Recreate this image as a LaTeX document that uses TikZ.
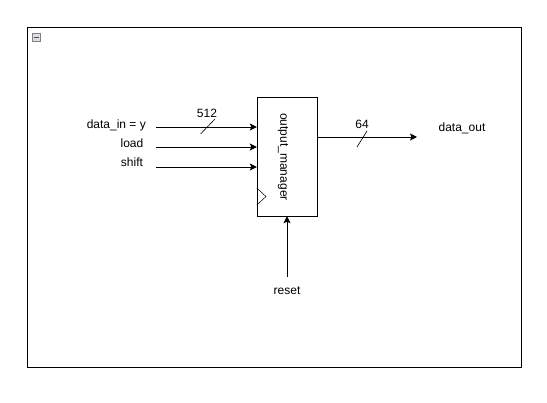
\documentclass[tikz,border=0pt]{standalone}
\usepackage{fontspec}
\setmainfont{Liberation Sans}
\usetikzlibrary{arrows.meta,positioning}
\tikzset{
  blk/.style  ={draw,minimum width=60pt,minimum height=119pt,inner sep=0pt},
  sig/.style  ={font=\fontsize{12}{14}\selectfont,inner sep=1pt},
  ar/.style   ={-{Stealth[length=7pt,width=7pt,inset=1.5pt]},line width=0.9pt},
  bus/.style  ={line width=0.6pt},
}
\begin{document}
\begin{tikzpicture}[x=1pt,y=-1pt]
\fill[white] (0,0) rectangle (547,403);
\useasboundingbox (0,0) rectangle (547,403);
% frame and collapse icon
\draw[line width=0.9pt] (27,27) rectangle (521,367);
\draw[gray,fill=blue!8!gray!25] (32,33) rectangle (40,41);
\draw[line width=0.9pt,black!70] (33.5,37) -- (38.5,37);
% block
\node[blk] (om) at (287,156.5) {};
\node[sig,rotate=-90] at (283,157) {output\_manager};
\draw[line width=0.5pt] (om.west |- 0,188) -- (266,196.5) -- (om.west |- 0,205);
% inputs
\node[sig,anchor=east] (din) at (147,125.5) {data\_in = y};
\node[sig] (ld) at (132,143) {load};
\node[sig] (sh) at (132,162.5) {shift};
\coordinate (dinS) at (156,127);
\coordinate (ldS) at (156,147);
\coordinate (shS) at (156,167);
\draw[ar] (dinS) -- (om.west |- dinS);
\draw[ar] (ldS) -- (om.west |- ldS);
\draw[ar] (shS) -- (om.west |- shS);
\draw[bus] (200.5,134) -- (215,119);
\node[sig] (w512) at (207,113) {512};
% output
\node[sig] (dout) at (462,128.5) {data\_out};
\coordinate (doutE) at (417,137);
\draw[ar] (om.east |- doutE) -- (doutE);
\draw[bus] (357,147) -- (367,131);
\node[sig] (w64) at (362,124) {64};
% reset
\node[sig] (rst) at (287,291) {reset};
\coordinate (rstS) at (287,277);
\draw[ar] (rstS) -- (om.south);
\end{tikzpicture}
\end{document}
